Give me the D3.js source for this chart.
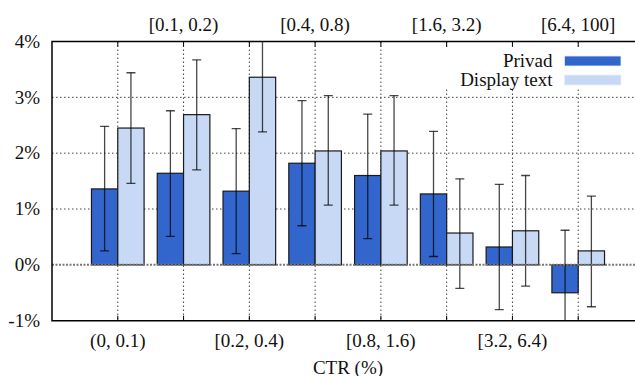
<!DOCTYPE html>
<html>
<head>
<meta charset="utf-8">
<script src="https://cdn.jsdelivr.net/npm/d3@7"></script>
<style>
  body { margin: 0; background: #fff; }
</style>
</head>
<body>
<div class="chart"></div>
<script>
// CTR buckets, bottom row and top row alternate
const buckets = ['(0, 0.1)', '[0.1, 0.2)', '[0.2, 0.4)', '[0.4, 0.8)', '[0.8, 1.6)', '[1.6, 3.2)', '[3.2, 6.4)', '[6.4, 100]'];
const privad = [1.36, 1.64, 1.32, 1.82, 1.60, 1.27, 0.32, -0.50];
const privadLo = [0.25, 0.51, 0.20, 0.70, 0.47, 0.15, -0.80, -1.62];
const privadHi = [2.48, 2.76, 2.44, 2.94, 2.70, 2.39, 1.44, 0.62];
const display = [2.45, 2.69, 3.36, 2.04, 2.04, 0.57, 0.61, 0.25];
const displayLo = [1.46, 1.70, 2.38, 1.07, 1.07, -0.42, -0.38, -0.75];
const displayHi = [3.44, 3.67, 4.34, 3.03, 3.03, 1.54, 1.60, 1.23];
const yTicks = [-1, 0, 1, 2, 3, 4];

const W = 635, H = 376;
const pL = 52, pR = 644, pT = 41.5, pB = 320.7;
const FS = 19, FONT = "'Liberation Serif'";

const svg = d3.select('div.chart').append('svg')
  .attr('width', W).attr('height', H);

const x = d3.scaleLinear().domain([0, buckets.length + 1]).range([pL, pR]);
const y = d3.scaleLinear().domain([-1, 4]).range([pB, pT]);
const bw = 0.4; // bar width in group units

svg.append('defs').append('clipPath').attr('id', 'plot')
  .append('rect').attr('x', pL).attr('y', pT).attr('width', pR - pL).attr('height', pB - pT);

const grid = svg.append('g').attr('stroke', '#444').attr('stroke-width', 1).attr('stroke-dasharray', '1.5,2.5');
grid.selectAll('line.h').data(yTicks.filter(d => d !== 0 && d !== -1 && d !== 4)).enter().append('line')
  .attr('x1', pL).attr('x2', pR).attr('y1', d => y(d)).attr('y2', d => y(d));
grid.selectAll('line.v').data(buckets).enter().append('line')
  .attr('x1', (d, i) => x(i + 1)).attr('x2', (d, i) => x(i + 1))
  .attr('y1', pT).attr('y2', pB);

// legend box hides the grid behind it
svg.append('rect').attr('x', 440).attr('y', 47).attr('width', 200).attr('height', 42).attr('fill', '#fff');

const plot = svg.append('g').attr('clip-path', 'url(#plot)');

function bars(vals, off, fill, cls) {
  plot.selectAll('rect.' + cls).data(vals).enter().append('rect')
    .attr('class', cls)
    .attr('x', (d, i) => x(i + 1 + off))
    .attr('width', x(bw) - x(0))
    .attr('y', d => y(Math.max(0, d)))
    .attr('height', d => Math.abs(y(d) - y(0)))
    .attr('fill', fill)
    .attr('stroke', '#1a1a1a').attr('stroke-width', 1.2);
}
bars(privad, -bw, '#3366cc', 'p');
bars(display, 0, '#c8d9f5', 'd');

// zero line
svg.append('line').attr('x1', pL).attr('x2', pR).attr('y1', y(0)).attr('y2', y(0))
  .attr('stroke', '#777').attr('stroke-width', 2).attr('stroke-dasharray', '2,1.5');

function errs(lo, hi, off, cls) {
  const g = plot.append('g').attr('stroke', '#000').attr('stroke-opacity', 0.72).attr('stroke-width', 1.3);
  const cx = i => x(i + 1 + off);
  g.selectAll('line.s' + cls).data(lo).enter().append('line')
    .attr('x1', (d, i) => cx(i)).attr('x2', (d, i) => cx(i))
    .attr('y1', (d, i) => y(lo[i])).attr('y2', (d, i) => y(hi[i]));
  [lo, hi].forEach((arr, k) => {
    g.selectAll('line.c' + cls + k).data(arr).enter().append('line')
      .attr('x1', (d, i) => cx(i) - 4.5).attr('x2', (d, i) => cx(i) + 4.5)
      .attr('y1', d => y(d)).attr('y2', d => y(d));
  });
}
errs(privadLo, privadHi, -bw / 2, 'p');
errs(displayLo, displayHi, bw / 2, 'd');

// frame
svg.append('path')
  .attr('d', `M${pR},${pT}H${pL}V${pB}H${pR}`)
  .attr('fill', 'none').attr('stroke', '#000').attr('stroke-width', 1.5);

// mirror tics on top and bottom
const tics = svg.append('g').attr('stroke', '#000').attr('stroke-width', 1);
buckets.forEach((b, i) => {
  tics.append('line').attr('x1', x(i + 1)).attr('x2', x(i + 1)).attr('y1', pT).attr('y2', pT + 5);
  tics.append('line').attr('x1', x(i + 1)).attr('x2', x(i + 1)).attr('y1', pB).attr('y2', pB - 5);
});

function label(sel) {
  return sel.attr('font-family', FONT).attr('font-size', FS).attr('fill', '#111').attr('dy', '0.33em');
}

// y tick labels
label(svg.selectAll('text.yt').data(yTicks).enter().append('text'))
  .attr('x', 40).attr('y', d => y(d))
  .attr('text-anchor', 'end')
  .text(d => d + '%');

// bucket labels: even ones below, odd ones above
label(svg.selectAll('text.xt').data(buckets).enter().append('text'))
  .attr('x', (d, i) => x(i + 1))
  .attr('y', (d, i) => i % 2 === 0 ? 340.5 : 24.5)
  .attr('text-anchor', 'middle')
  .text(d => d);

label(svg.append('text')).attr('x', x(4.5)).attr('y', 367.5)
  .attr('text-anchor', 'middle').text('CTR (%)');

// legend
const legend = [['Privad', '#3366cc'], ['Display text', '#c8d9f5']];
legend.forEach(([name, c], i) => {
  label(svg.append('text')).attr('x', 552.5).attr('y', 61 + i * 19)
    .attr('text-anchor', 'end').text(name);
  svg.append('rect').attr('x', 564.5).attr('y', 56 + i * 19).attr('width', 56.5).attr('height', 10)
    .attr('fill', c).attr('stroke', '#e8eefa').attr('stroke-width', 0.8);
});
</script>
</body>
</html>
